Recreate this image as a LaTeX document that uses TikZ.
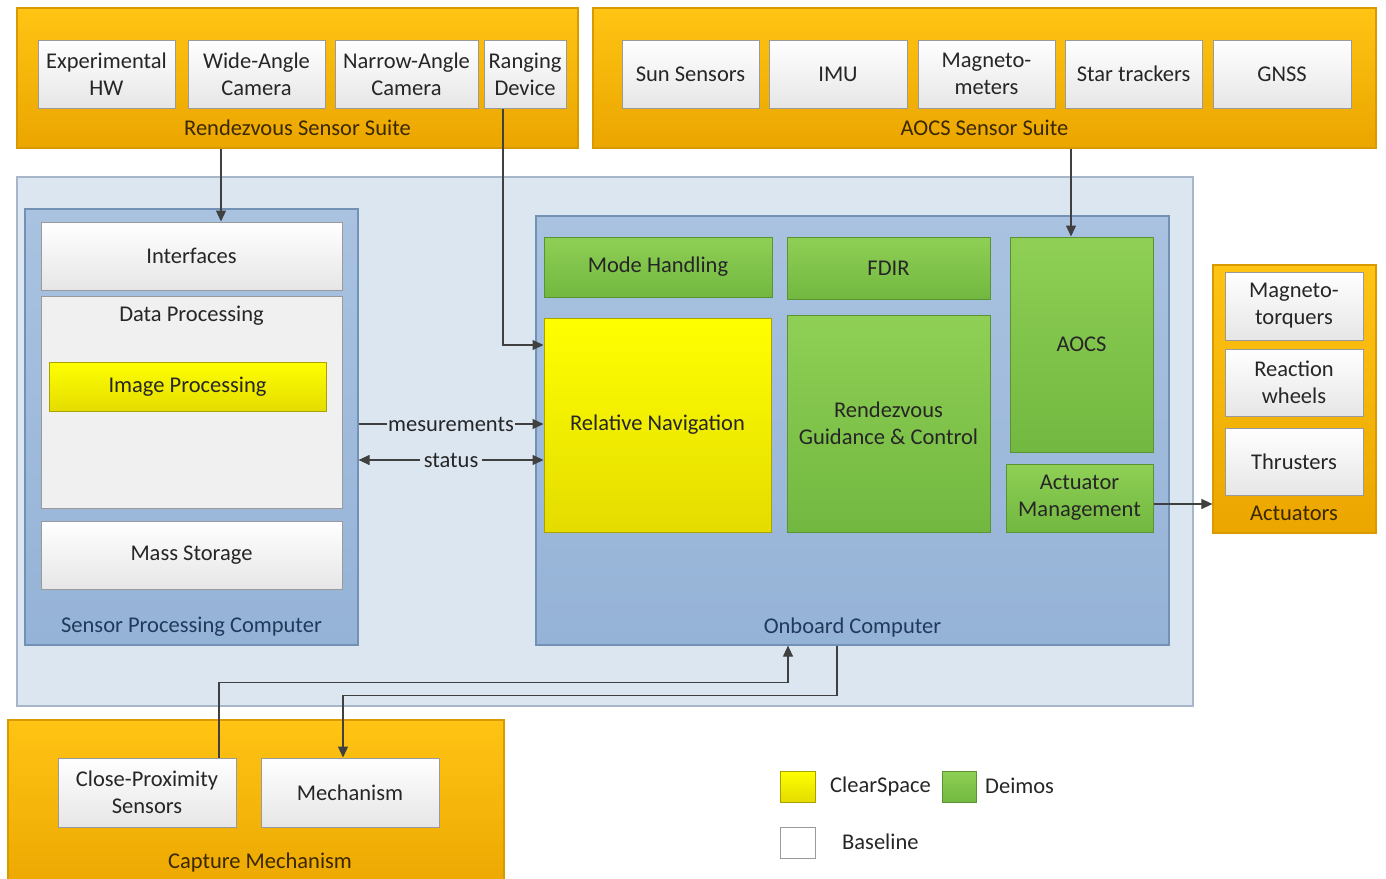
\documentclass[tikz,border=0pt]{standalone}
\usepackage{fontspec}
\setmainfont{Carlito}
\usetikzlibrary{arrows.meta,calc}
\definecolor{txt}{HTML}{262626}
\definecolor{orgA}{HTML}{FFC414}
\definecolor{orgB}{HTML}{EBA600}
\definecolor{orgD}{HTML}{D99A00}
\definecolor{bigF}{HTML}{DCE6F1}
\definecolor{bigD}{HTML}{A7B7C9}
\definecolor{bluF}{HTML}{95B3D7}
\definecolor{bluT}{HTML}{A9C2E0}
\definecolor{bluD}{HTML}{7390B5}
\definecolor{grnA}{HTML}{8FCF55}
\definecolor{grnB}{HTML}{72B840}
\definecolor{grnD}{HTML}{5A9432}
\definecolor{ylwA}{HTML}{FFFF00}
\definecolor{ylwB}{HTML}{E4DC00}
\definecolor{ylwD}{HTML}{A9A200}
\definecolor{whtB}{HTML}{E6E6E6}
\definecolor{whtD}{HTML}{9A9A9A}
\definecolor{arrC}{HTML}{404040}
\definecolor{lblB}{HTML}{1F3A5C}
\definecolor{lblO}{HTML}{3A2800}
\tikzset{
  every node/.style={font=\fontsize{22.5}{27}\selectfont, text=txt, align=center, inner sep=0pt},
  suite/.style={draw=orgD, line width=1.2pt, top color=orgA, bottom color=orgB},
  wbox/.style={draw=whtD, line width=1pt, top color=white, bottom color=whtB},
  gbox/.style={draw=grnD, line width=1pt, top color=grnA, bottom color=grnB},
  ybox/.style={draw=ylwD, line width=1pt, top color=ylwA, bottom color=ylwB},
  comp/.style={draw=bluD, line width=1.2pt, top color=bluT, bottom color=bluF},
  bigbox/.style={draw=bigD, line width=1.2pt, fill=bigF},
  arr/.style={draw=arrC, line width=1.1pt, -{Triangle[length=11pt,width=10pt]}},
  darr/.style={draw=arrC, line width=1.1pt, {Triangle[length=11pt,width=10pt]}-{Triangle[length=11pt,width=10pt]}},
  olbl/.style={text=lblO},
  blbl/.style={text=lblB}
}
\begin{document}
\begin{tikzpicture}[x=1pt,y=-1pt]
\useasboundingbox[fill=white] (0,0) rectangle (1386,878);

% Rendezvous sensor suite
\node[suite, minimum width=561, minimum height=140] (rss) at (297.5,78) {};
\node[wbox, minimum width=137, minimum height=68] (exp) at (106.5,74) {Experimental\\HW};
\node[wbox, minimum width=137, minimum height=68] (wac) at (256.5,74) {Wide-Angle\\Camera};
\node[wbox, minimum width=143, minimum height=68] (nac) at (406.5,74) {Narrow-Angle\\Camera};
\node[wbox, minimum width=82, minimum height=68] (rng) at (525,74) {Ranging\\Device};
\node[olbl] (rssl) at (297.5,128) {Rendezvous Sensor Suite};

% AOCS sensor suite
\node[suite, minimum width=783, minimum height=140] (aoss) at (984.5,78) {};
\node[wbox, minimum width=137, minimum height=68] (sun) at (690.5,74) {Sun Sensors};
\node[wbox, minimum width=138, minimum height=68] (imu) at (838,74) {IMU};
\node[wbox, minimum width=137, minimum height=68] (mag) at (986.5,74) {Magneto-\\meters};
\node[wbox, minimum width=137, minimum height=68] (star) at (1133.5,74) {Star trackers};
\node[wbox, minimum width=138, minimum height=68] (gnss) at (1282,74) {GNSS};
\node[olbl] (aossl) at (984.5,128) {AOCS Sensor Suite};

% Big background box
\node[bigbox, minimum width=1176, minimum height=529] (big) at (605,441.5) {};

% Sensor processing computer
\node[comp, minimum width=333, minimum height=436] (spc) at (191.5,427) {};
\node[wbox, minimum width=301, minimum height=68] (intf) at (191.5,256) {Interfaces};
\node[wbox, minimum width=301, minimum height=212, top color=white!94!black, bottom color=white!94!black] (dp) at (191.5,402) {};
\node (dpl) at (191.5,316) {Data Processing};
\node[ybox, minimum width=277, minimum height=49] (imgp) at (187.5,386.5) {Image Processing};
\node[wbox, minimum width=301, minimum height=68] (mass) at (191.5,555) {Mass Storage};
\node[blbl] (spcl) at (191.5,627) {Sensor Processing Computer};

% Onboard computer
\node[comp, minimum width=633, minimum height=429] (obc) at (852.5,430.5) {};
\node[gbox, minimum width=228, minimum height=60] (mode) at (658,267) {Mode Handling};
\node[gbox, minimum width=203, minimum height=62] (fdir) at (888.5,268) {FDIR};
\node[gbox, minimum width=143, minimum height=215] (aocs) at (1081.5,344.5) {};
\node (aocsl) at (1081.5,344) {AOCS};
\node[ybox, minimum width=227, minimum height=214] (relnav) at (657.5,425) {Relative Navigation};
\node[gbox, minimum width=203, minimum height=217] (rgc) at (888.5,423.5) {Rendezvous\\Guidance \& Control};
\node[gbox, minimum width=147, minimum height=68] (actm) at (1079.5,498) {Actuator\\Management};
\node[blbl] (obcl) at (852.5,627) {Onboard Computer};

% Actuators
\node[suite, minimum width=163, minimum height=268] (act) at (1294.5,399) {};
\node[wbox, minimum width=138, minimum height=68] (mtq) at (1294,306) {Magneto-\\torquers};
\node[wbox, minimum width=138, minimum height=67] (rw) at (1294,382.5) {Reaction\\wheels};
\node[wbox, minimum width=138, minimum height=67] (thr) at (1294,461.5) {Thrusters};
\node[olbl] (actl) at (1294,513) {Actuators};

% Capture mechanism
\node[suite, minimum width=496, minimum height=180] (cap) at (256,810) {};
\node[wbox, minimum width=178, minimum height=69] (cps) at (147,792.5) {Close-Proximity\\Sensors};
\node[wbox, minimum width=178, minimum height=69] (mech) at (350,792.5) {Mechanism};
\node[olbl] (capl) at (260,862) {Capture Mechanism};

% Legend
\node[ybox, minimum width=35, minimum height=31] (lgy) at (797.5,786.5) {};
\node[anchor=west] (lgyl) at (830,786) {ClearSpace};
\node[gbox, minimum width=34, minimum height=31] (lgg) at (959,786.5) {};
\node[anchor=west] (lggl) at (985,786) {Deimos};
\node[wbox, minimum width=35, minimum height=31, top color=white, bottom color=white] (lgw) at (797.5,842.5) {};
\node[anchor=west] (lgwl) at (842,842) {Baseline};

% Connectors
\draw[arr] ([xshift=29.5]intf.north |- rss.south) -- ([xshift=29.5]intf.north);
\draw[arr] ([xshift=-22]rng.south) |- ([yshift=80]relnav.west);
\draw[arr] ([xshift=-10.5]aocs.north |- aoss.south) -- ([xshift=-10.5]aocs.north);
\draw[arr] ([yshift=3]spc.east) -- ([yshift=3]spc.east -| relnav.west)
  node[midway, fill=bigF, inner xsep=1pt, inner ysep=1pt] (meas) {mesurements};
\draw[darr] ([yshift=-33]spc.east) -- ([yshift=-33]spc.east -| relnav.west)
  node[midway, fill=bigF, inner xsep=4pt, inner ysep=1pt] (stat) {status};
\draw[arr] ([yshift=-6]actm.east) -- ([yshift=-6]actm.east -| act.west);
\draw[arr] ([xshift=72]cps.north) -- ++(0,-75) -| ([xshift=-64.5]obc.south);
\draw[arr] ([xshift=-15.5]obc.south) -- ++(0,50) -| ([xshift=-7]mech.north);
\end{tikzpicture}
\end{document}
